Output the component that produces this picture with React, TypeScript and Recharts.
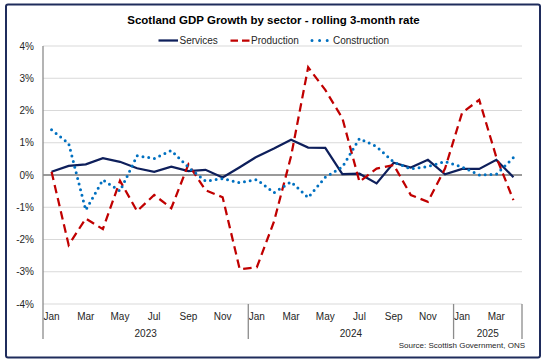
import React from 'react';
import { LineChart, Line, XAxis, YAxis, CartesianGrid, ReferenceLine } from 'recharts';

// ---- data ----
const categories = [
  'Jan 2023', 'Feb 2023', 'Mar 2023', 'Apr 2023', 'May 2023', 'Jun 2023', 'Jul 2023', 'Aug 2023', 'Sep 2023', 'Oct 2023', 'Nov 2023', 'Dec 2023',
  'Jan 2024', 'Feb 2024', 'Mar 2024', 'Apr 2024', 'May 2024', 'Jun 2024', 'Jul 2024', 'Aug 2024', 'Sep 2024', 'Oct 2024', 'Nov 2024', 'Dec 2024',
  'Jan 2025', 'Feb 2025', 'Mar 2025', 'Apr 2025',
];
const services = [0.10, 0.28, 0.33, 0.52, 0.41, 0.21, 0.10, 0.26, 0.12, 0.16, -0.08, 0.24, 0.57, 0.82, 1.09, 0.85, 0.84, 0.03, 0.04, -0.26, 0.38, 0.23, 0.47, 0.02, 0.19, 0.19, 0.47, -0.07];
const production = [0.10, -2.17, -1.35, -1.68, -0.18, -1.12, -0.62, -1.03, 0.33, -0.47, -0.69, -2.92, -2.86, -1.45, 0.58, 3.34, 2.64, 1.76, -0.21, 0.20, 0.31, -0.62, -0.83, 0.20, 1.93, 2.33, 0.55, -0.78];
const construction = [1.40, 0.98, -1.09, -0.15, -0.50, 0.60, 0.51, 0.76, 0.24, -0.19, -0.11, -0.24, -0.14, -0.55, -0.21, -0.70, -0.07, 0.25, 1.13, 0.88, 0.40, 0.19, 0.26, 0.42, 0.25, 0.00, 0.02, 0.54];
const yTicks = [-4, -3, -2, -1, 0, 1, 2, 3, 4];
const seriesNames = ['Services', 'Production', 'Construction'];
const titleText = 'Scotland GDP Growth by sector - rolling 3-month rate';
const sourceText = 'Source: Scottish Government, ONS';

const data = categories.map((c, i) => ({
  cat: c,
  services: services[i],
  production: production[i],
  construction: construction[i],
}));

// ---- layout ----
const W = 547;
const H = 362;
const PLOT_L = 43;
const PLOT_R = 522;
const PLOT_T = 46;
const PLOT_B = 304;
const N = categories.length;
const BW = (PLOT_R - PLOT_L) / N;
const FONT = 'Arial, "Liberation Sans", Helvetica, sans-serif';
const TEXT = '#262626';
const AXIS_GRAY = '#8c8c8c';
const NAVY = '#0e1f5b';
const RED = '#c00000';
const BLUE = '#0070c0';

const XTick = (props: any) => {
  const { x, y, payload } = props;
  const i: number = payload && typeof payload.index === 'number' ? payload.index : props.index;
  const cat: string = categories[i] || '';
  const [mon, yr] = cat.split(' ');
  const els: any[] = [];
  if (i % 2 === 0) {
    els.push(
      <text key="m" x={x} y={y + 15.5} textAnchor="middle" fontSize={10} fontFamily={FONT} fill={TEXT}>
        {mon}
      </text>
    );
  }
  if (i % 12 === 0) {
    const left = x - BW / 2;
    const count = Math.min(12, N - i);
    els.push(<line key="s" x1={left} x2={left} y1={y} y2={y + 35} stroke={AXIS_GRAY} strokeWidth={1.3} />);
    els.push(
      <text key="y" x={left + (count * BW) / 2} y={y + 33} textAnchor="middle" fontSize={10} fontFamily={FONT} fill={TEXT}>
        {yr}
      </text>
    );
  }
  if (i === N - 1) {
    const right = x + BW / 2;
    els.push(<line key="e" x1={right} x2={right} y1={y} y2={y + 35} stroke={AXIS_GRAY} strokeWidth={1.3} />);
  }
  return <g>{els}</g>;
};

export default function App() {
  return (
    <div style={{ position: 'absolute', left: 0, top: 0, width: W, height: H, background: '#fff', fontFamily: FONT }}>
      <svg width={W} height={H} style={{ position: 'absolute', left: 0, top: 0 }}>
        <rect x={6} y={4.5} width={534} height={353} rx={2} fill="#fff" stroke="#1f2c5c" strokeWidth={2} />
        <text x={273.5} y={24} textAnchor="middle" fontSize={11.5} fontWeight="bold" fontFamily={FONT} fill="#000">
          {titleText}
        </text>
        {/* legend */}
        <line x1={158.5} x2={178} y1={40.5} y2={40.5} stroke={NAVY} strokeWidth={2.25} />
        <text x={179.5} y={44} fontSize={10} fontFamily={FONT} fill={TEXT}>{seriesNames[0]}</text>
        <line x1={230.5} x2={249.5} y1={40.5} y2={40.5} stroke={RED} strokeWidth={2.25} strokeDasharray="7.5 4" />
        <text x={251} y={44} fontSize={10} fontFamily={FONT} fill={TEXT}>{seriesNames[1]}</text>
        <line x1={312} x2={328} y1={40.5} y2={40.5} stroke={BLUE} strokeWidth={3} strokeLinecap="round" strokeDasharray="0 7.6" />
        <text x={333} y={44} fontSize={10} fontFamily={FONT} fill={TEXT}>{seriesNames[2]}</text>
        <text x={525} y={348} textAnchor="end" fontSize={8} fontFamily={FONT} fill={TEXT}>{sourceText}</text>
      </svg>
      <div style={{ position: 'absolute', left: 0, top: 0 }}>
        <LineChart
          width={W}
          height={H}
          data={data}
          margin={{ top: PLOT_T, right: W - PLOT_R, bottom: H - PLOT_B - 35, left: 0 }}
        >
          <CartesianGrid horizontal vertical={false} stroke="#d9d9d9" strokeWidth={1.2} />
          <XAxis
            dataKey="cat"
            height={35}
            interval={0}
            axisLine={false}
            tickLine={false}
            tickSize={0}
            tickMargin={0}
            padding={{ left: BW / 2, right: BW / 2 }}
            tick={<XTick />}
          />
          <YAxis
            width={PLOT_L}
            domain={[-4, 4]}
            ticks={yTicks}
            interval={0}
            allowDataOverflow
            tickLine={false}
            tickSize={0}
            tickMargin={9}
            axisLine={{ stroke: AXIS_GRAY, strokeWidth: 1.3 }}
            tickFormatter={(v: number) => `${v}%`}
            tick={{ fontSize: 10, fontFamily: FONT, fill: TEXT }}
          />
          <ReferenceLine y={0} stroke="#7f7f7f" strokeWidth={1.5} />
          <Line
            dataKey="services"
            stroke={NAVY}
            strokeWidth={2.25}
            dot={false}
            isAnimationActive={false}
          />
          <Line
            dataKey="production"
            stroke={RED}
            strokeWidth={2.25}
            strokeDasharray="8.5 5"
            dot={false}
            isAnimationActive={false}
          />
          <Line
            dataKey="construction"
            stroke={BLUE}
            strokeWidth={3}
            strokeLinecap="round"
            strokeDasharray="0 5.8"
            dot={false}
            isAnimationActive={false}
          />
        </LineChart>
      </div>
    </div>
  );
}
